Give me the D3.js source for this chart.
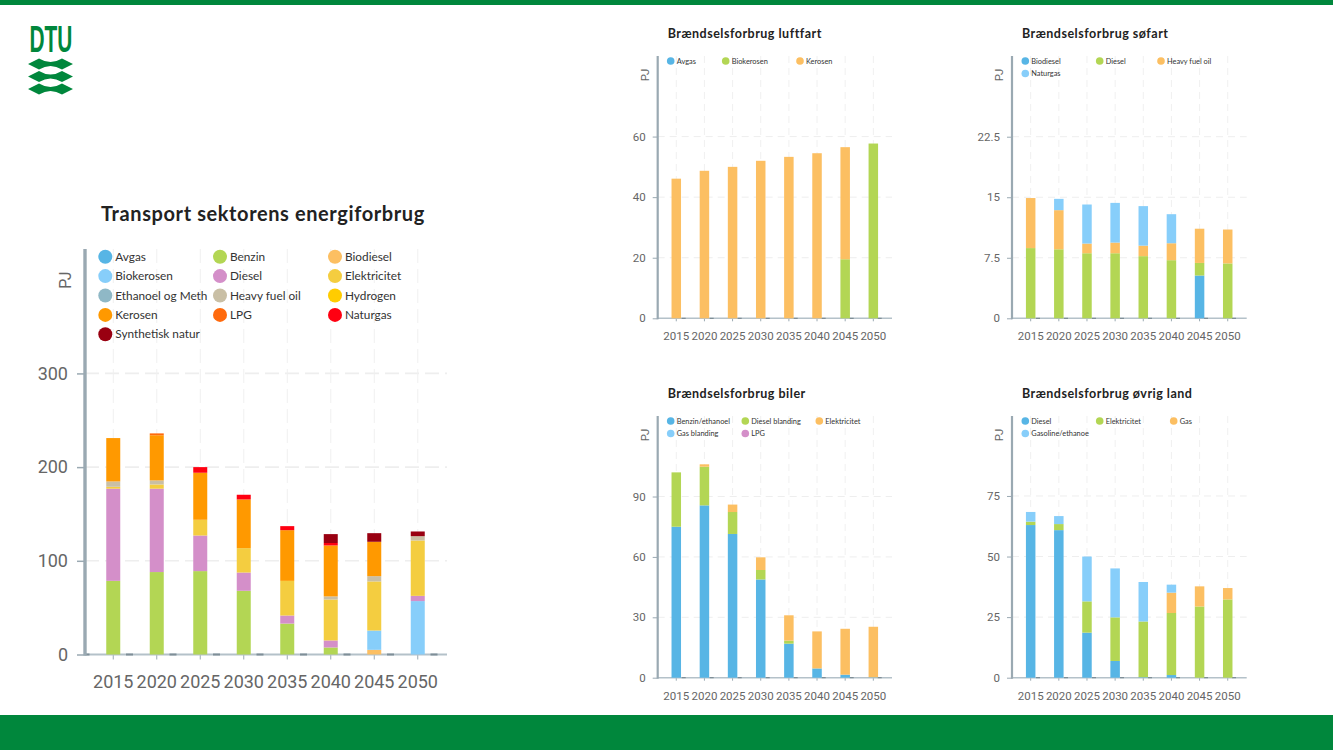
<!DOCTYPE html>
<html>
<head>
<meta charset="utf-8">
<script src="https://cdn.jsdelivr.net/npm/d3@7"></script>
<style>
html,body{margin:0;padding:0;background:#fff;}
svg{display:block;}
</style>
</head>
<body>
<svg id="slide" width="1333" height="750"></svg>
<script>
//shared x categories
var years = ['2015','2020','2025','2030','2035','2040','2045','2050'];

//main chart, values per year in PJ
var transportNames = ['Avgas','Benzin','Biodiesel','Biokerosen','Diesel','Elektricitet','Ethanoel og Meth','Heavy fuel oil','Hydrogen','Kerosen','LPG','Naturgas','Synthetisk natur'];
var tAvgas = [0,0,0,0,0,0,0,0];
var tBenzin = [78.6,88,89,68,33,7.5,0,0];
var tBiodiesel = [0,0,0,0,0,0,5,0];
var tBiokerosen = [0,0,0,0,0,0,20.6,57];
var tDiesel = [98.4,89,38,19.5,8.6,7.5,0,5.6];
var tElektricitet = [2,4.5,16.8,26,37,43.7,52.4,59.1];
var tEthanol = [0,0,0,0,0,0,0,0];
var tHeavy = [5.7,4.3,0,0,0,3.3,5.6,4.6];
var tHydrogen = [0,0,0,0,0,0,0,0];
var tKerosen = [46.3,48.2,50.2,52,54.1,54.4,36.7,0];
var tLPG = [0,2,0,0,0,0,0,0];
var tNaturgas = [0,0,6,5,4.3,2.6,0,0];
var tSynth = [0,0,0,0,0,9.5,9.2,5];

//luftfart
var airNames = ['Avgas','Biokerosen','Kerosen'];
var airAvgas = [0,0,0,0,0,0,0,0];
var airBio = [0,0,0,0,0,0,19.5,57.7];
var airKerosen = [46.1,48.7,50,52,53.3,54.5,37,0];

//søfart
var seaNames = ['Biodiesel','Diesel','Heavy fuel oil','Naturgas'];
var seaBiodiesel = [0,0,0,0,0,0,5.3,0];
var seaDiesel = [8.7,8.55,8.06,8.06,7.7,7.2,1.56,6.8];
var seaHeavy = [6.2,4.85,1.2,1.32,1.3,2.1,4.24,4.2];
var seaNaturgas = [0,1.4,4.84,4.92,4.9,3.6,0,0];

//biler
var carNames = ['Benzin/ethanoel','Diesel blanding','Elektricitet','Gas blanding','LPG'];
var carBenzin = [75,85.6,71.4,48.8,16.9,4.6,1.5,0.2];
var carDiesel = [27,19.2,10.9,4.7,1.5,0,0,0];
var carEl = [0,1.2,3.7,6.3,12.6,18.4,22.8,25.1];
var carGas = [0,0,0,0,0,0,0,0];
var carLPG = [0,0,0,0,0,0,0,0];

//øvrig land
var landNames = ['Diesel','Elektricitet','Gas','Gasoline/ethanoe'];
var landDiesel = [63,60.9,18.6,6.9,0.2,1.1,0,0];
var landEl = [1.4,2.5,12.9,18,23,25.6,29.4,32.3];
var landGas = [0,0,0,0,0,8.4,8.3,4.7];
var landGasoline = [4,3.3,18.5,20.2,16.3,3.3,0,0];

//y ticks per chart
var transportTicks = [0,100,200,300];
var airTicks = [0,20,40,60];
var seaTicks = [0,7.5,15,22.5];
var carTicks = [0,30,60,90];
var landTicks = [0,25,50,75];

//colors
var transportColors = ['#57b5e5','#b3d654','#fcbf62','#87cefa','#d48fc9','#f4cd40','#8fb8c6','#c9bfa5','#ffcc00','#ff9900','#ff6a0d','#ff0011','#990011'];
var smallColors = ['#57b5e5','#b3d654','#fcbf62','#87cefa','#d48fc9'];

var slide = d3.select('#slide');
var GREEN = '#00873c';

slide.append('rect').attr('width',1333).attr('height',5).attr('fill',GREEN);
slide.append('rect').attr('y',715).attr('width',1333).attr('height',35).attr('fill',GREEN);

//DTU logo
function drawLogo(){
    var g = slide.append('g');
    g.append('text').text('DTU')
        .attr('transform','translate(29.5,52) scale(0.72,1.26)')
        .style('font-family','"Liberation Sans Narrow","Liberation Sans",sans-serif')
        .style('font-weight','700').style('font-size','29px').style('fill',GREEN);
    [64,76.5,89].forEach(function(y){
        g.append('path')
         .attr('d','M28,'+y+' L39,'+(y-5.5)+' Q50.5,'+(y+1.5)+' 62,'+(y-5.5)+' L73,'+y+' L62,'+(y+5.5)+' Q50.5,'+(y-1.5)+' 39,'+(y+5.5)+' Z')
         .attr('fill',GREEN);
    });
}
drawLogo();

//stacked column chart, main and small charts share this one
function stackedChart(cfg){
    var g = slide.append('g');
    var x = d3.scaleBand().domain(years)
        .range([cfg.left,cfg.left+cfg.step*years.length])
        .paddingInner(1-cfg.barWidth/cfg.step).paddingOuter((1-cfg.barWidth/cfg.step)/2);
    var y = d3.scaleLinear().domain([0,cfg.yMax]).range([cfg.bottom,cfg.top]);

    var rows = years.map(function(yr,i){
        var r = {year:yr};
        cfg.names.forEach(function(n,k){ r[n] = cfg.series[k][i]; });
        return r;
    });
    var stacked = d3.stack().keys(cfg.names)(rows);

    //grid
    g.append('g').selectAll('line').data(cfg.ticks.slice(1)).enter().append('line')
        .attr('x1',cfg.axisX).attr('x2',cfg.gridEnd)
        .attr('y1',function(d){return y(d)}).attr('y2',function(d){return y(d)})
        .style('stroke','#eeeeee').style('stroke-width',cfg.big?1.6:1).style('stroke-dasharray',cfg.big?'14 6':'7 5');
    g.append('g').selectAll('line').data(years).enter().append('line')
        .attr('x1',function(d){return x(d)+x.bandwidth()/2}).attr('x2',function(d){return x(d)+x.bandwidth()/2})
        .attr('y1',cfg.top).attr('y2',cfg.bottom)
        .style('stroke','#f0f0f0').style('stroke-width',1).style('stroke-dasharray',cfg.big?'14 6':'7 5');

    //x axis
    var xAxis = g.append('g').attr('transform','translate(0,'+cfg.bottom+')')
        .call(d3.axisBottom(x).tickSize(cfg.big?5:3).tickPadding(cfg.big?16:11));
    xAxis.select('.domain').remove();
    xAxis.selectAll('line').style('stroke','#9aa9b2');
    xAxis.selectAll('text').style('font-family','Roboto,sans-serif').style('font-size',cfg.tickFont+'px').style('fill','#666');

    g.append('line').attr('x1',cfg.axisX).attr('x2',cfg.gridEnd).attr('y1',cfg.bottom).attr('y2',cfg.bottom)
        .style('stroke','#b4c1c9').style('stroke-width',cfg.big?2:1.6);
    g.append('line').attr('x1',cfg.axisX).attr('x2',cfg.gridEnd).attr('y1',cfg.bottom).attr('y2',cfg.bottom)
        .style('stroke','#7f8e97').style('stroke-width',cfg.big?2:1.2).style('stroke-dasharray',cfg.big?'7 36.5':'4 24')
        .style('stroke-dashoffset',cfg.big?-41:-24);

    //bars
    g.append('g').selectAll('g').data(stacked).enter().append('g')
        .style('fill',function(d,i){return cfg.colors[i]})
        .each(function(s){
            d3.select(this).selectAll('rect').data(s.filter(function(d){return d[1]>d[0]})).enter().append('rect')
                .attr('x',function(d){return x(d.data.year)})
                .attr('width',x.bandwidth())
                .attr('y',function(d){return y(d[1])})
                .attr('height',function(d){return y(d[0])-y(d[1])});
        });

    //y axis
    var yAxis = g.append('g').attr('transform','translate('+cfg.axisX+',0)')
        .call(d3.axisLeft(y).tickValues(cfg.ticks).tickFormat(String).tickSize(cfg.big?8:5).tickPadding(cfg.big?9:7));
    yAxis.select('.domain').remove();
    yAxis.selectAll('line').style('stroke','#9aa9b2').style('stroke-width',cfg.big?1.5:1);
    yAxis.selectAll('text').style('font-family','Roboto,sans-serif').style('font-size',cfg.tickFont+'px').style('fill','#666');
    g.append('line').attr('x1',cfg.axisX).attr('x2',cfg.axisX).attr('y1',cfg.top).attr('y2',cfg.bottom+1)
        .style('stroke','#9aa9b2').style('stroke-width',cfg.big?3.4:2.2);

    //unit label
    g.append('text').text('PJ')
        .attr('transform','translate('+cfg.pjX+','+cfg.pjY+') rotate(-90)')
        .attr('text-anchor','middle')
        .style('font-family','Roboto,sans-serif').style('font-size',cfg.big?'16px':'11.5px').style('fill','#666');

    //title
    g.append('text').text(cfg.title).attr('x',cfg.titleX).attr('y',cfg.titleY)
        .style('font-family','Lato,sans-serif').style('font-weight','700')
        .style('letter-spacing',cfg.titleSpacing+'px')
        .style('font-size',cfg.titleFont+'px').style('fill','#222');

    //legend, three columns
    var leg = g.append('g').selectAll('g').data(cfg.names).enter().append('g')
        .attr('transform',function(d,i){
            return 'translate('+cfg.legendX[i%3]+','+(cfg.legendY+cfg.legendStep*Math.floor(i/3))+')';
        });
    leg.append('circle').attr('r',cfg.big?7:3.8).style('fill',function(d,i){return cfg.colors[i]});
    leg.append('text').text(function(d){return d})
        .attr('x',cfg.big?10:6).attr('dy','0.35em')
        .style('font-family','Lato,sans-serif').style('font-size',cfg.legendFont+'px').style('fill','#333');
}

stackedChart({
    big:true, title:'Transport sektorens energiforbrug', titleX:101, titleY:221, titleFont:20, titleSpacing:0.6,
    names:transportNames, colors:transportColors,
    series:[tAvgas,tBenzin,tBiodiesel,tBiokerosen,tDiesel,tElektricitet,tEthanol,tHeavy,tHydrogen,tKerosen,tLPG,tNaturgas,tSynth],
    ticks:transportTicks, yMax:432.8, top:249, bottom:654.5,
    left:91.5, step:43.5, barWidth:14, axisX:85, gridEnd:447, tickFont:18,
    pjX:71, pjY:280, legendX:[105.3,220,335], legendY:256.7, legendStep:19.4, legendFont:11.8
});

var smallLeft = {
    names:airNames, colors:smallColors, series:[airAvgas,airBio,airKerosen], ticks:airTicks,
    title:'Brændselsforbrug luftfart', titleX:667.7, titleY:38,
    yMax:86.6, top:56, bottom:318.3, left:662.2, axisX:657.7, gridEnd:892, pjX:649, pjY:75,
    legendX:[670.7,725.7,800], legendY:61
};
var smallRight = {
    names:seaNames, colors:smallColors, series:[seaBiodiesel,seaDiesel,seaHeavy,seaNaturgas], ticks:seaTicks,
    title:'Brændselsforbrug søfart', titleX:1022, titleY:38,
    yMax:32.5, top:56, bottom:318.3, left:1016.6, axisX:1012, gridEnd:1246.7, pjX:1003, pjY:75,
    legendX:[1025.3,1099.7,1161], legendY:61
};
var smallCar = {
    names:carNames, colors:smallColors, series:[carBenzin,carDiesel,carEl,carGas,carLPG], ticks:carTicks,
    title:'Brændselsforbrug biler', titleX:667.7, titleY:398,
    yMax:130, top:416, bottom:677.7, left:662.2, axisX:657.7, gridEnd:892, pjX:649, pjY:435,
    legendX:[670.7,745.3,819.3], legendY:421
};
var smallLand = {
    names:landNames, colors:smallColors, series:[landDiesel,landEl,landGas,landGasoline], ticks:landTicks,
    title:'Brændselsforbrug øvrig land', titleX:1022, titleY:398,
    yMax:108, top:416, bottom:677.7, left:1016.6, axisX:1012, gridEnd:1246.7, pjX:1003, pjY:435,
    legendX:[1025.3,1099.7,1173.7], legendY:421
};
[smallLeft,smallRight,smallCar,smallLand].forEach(function(c){
    c.big = false; c.step = 28.15; c.barWidth = 9.5; c.tickFont = 11.5;
    c.titleFont = 12.5; c.titleSpacing = 0.5; c.legendFont = 7.4; c.legendStep = 12.5;
    stackedChart(c);
});
</script>
</body>
</html>
